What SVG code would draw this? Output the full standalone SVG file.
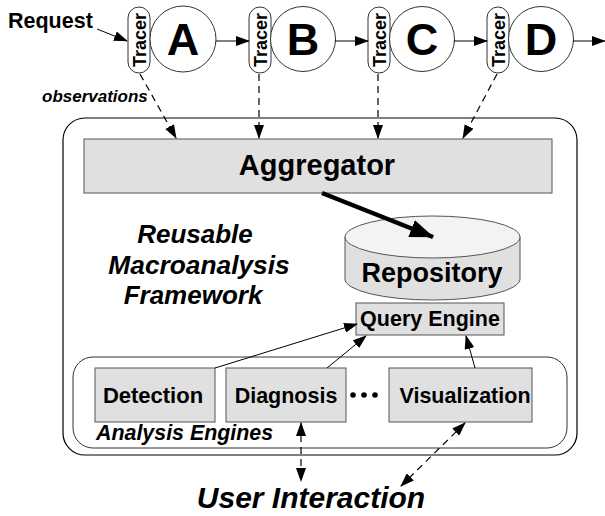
<svg xmlns="http://www.w3.org/2000/svg" width="605" height="516" viewBox="0 0 605 516">
  <style>
    text { font-family: "Liberation Sans", Arial, sans-serif; font-weight: bold; fill: #000; }
    .it { font-style: italic; }
    .mid { text-anchor: middle; }
    .box { fill: #e0e0e0; stroke: #555; stroke-width: 1; }
    .frame { fill: #fff; stroke: #000; stroke-width: 1.2; }
    .pill { fill: #fff; stroke: #333; stroke-width: 1; }
    .stage { fill: #fff; stroke: #333; stroke-width: 1; }
    .thin { fill: none; stroke: #000; stroke-width: 1; }
    .dash { fill: none; stroke: #000; stroke-width: 1.2; stroke-dasharray: 7 5; }
    .thick { fill: none; stroke: #000; stroke-width: 4.5; }
  </style>
  <defs>
    <marker id="arr" markerWidth="14" markerHeight="10" refX="13" refY="5" orient="auto" markerUnits="userSpaceOnUse">
      <path d="M0,0 L14,5 L0,10 Z" fill="#000"/>
    </marker>
    <marker id="arrStart" markerWidth="14" markerHeight="10" refX="1" refY="5" orient="auto" markerUnits="userSpaceOnUse">
      <path d="M14,0 L0,5 L14,10 Z" fill="#000"/>
    </marker>
    <marker id="arrBig" markerWidth="24" markerHeight="18" refX="23" refY="9" orient="auto" markerUnits="userSpaceOnUse">
      <path d="M0,0 L24,9 L0,18 Z" fill="#000"/>
    </marker>
  </defs>

  <!-- framework container -->
  <g id="framework">
    <rect class="frame" x="63" y="118" width="514" height="337" rx="22"/>
    <text class="it mid" x="195" y="243" font-size="26">Reusable</text>
    <text class="it mid" x="199" y="274" font-size="26.3">Macroanalysis</text>
    <text class="it mid" x="193" y="304" font-size="26">Framework</text>
  </g>

  <!-- request pipeline -->
  <g id="request">
    <text x="8" y="28" font-size="21.5">Request</text>
  </g>
  <g id="tracerA">
    <rect class="pill" x="128" y="7" width="22" height="66" rx="11"/>
    <text class="mid" transform="translate(145.5,40) rotate(-90)" font-size="18">Tracer</text>
  </g>
  <g id="stageA">
    <circle class="stage" cx="183" cy="39" r="33"/>
    <text class="mid" x="183" y="55" font-size="45">A</text>
  </g>
  <g id="tracerB">
    <rect class="pill" x="249" y="7" width="22" height="66" rx="11"/>
    <text class="mid" transform="translate(266.5,40) rotate(-90)" font-size="18">Tracer</text>
  </g>
  <g id="stageB">
    <circle class="stage" cx="303" cy="39" r="32.5"/>
    <text class="mid" x="303" y="55" font-size="45">B</text>
  </g>
  <g id="tracerC">
    <rect class="pill" x="368" y="7" width="22" height="66" rx="11"/>
    <text class="mid" transform="translate(385.5,40) rotate(-90)" font-size="18">Tracer</text>
  </g>
  <g id="stageC">
    <circle class="stage" cx="422" cy="39" r="32.5"/>
    <text class="mid" x="422" y="55" font-size="45">C</text>
  </g>
  <g id="tracerD">
    <rect class="pill" x="487" y="7" width="22" height="66" rx="11"/>
    <text class="mid" transform="translate(504.5,40) rotate(-90)" font-size="18">Tracer</text>
  </g>
  <g id="stageD">
    <circle class="stage" cx="541" cy="39" r="32.5"/>
    <text class="mid" x="541" y="55" font-size="45">D</text>
  </g>
  <g id="observations">
    <text class="it" x="42" y="102" font-size="17">observations</text>
  </g>

  <!-- aggregator -->
  <g id="aggregator">
    <rect class="box" x="84" y="139" width="468" height="54"/>
    <text class="mid" x="317" y="175" font-size="29">Aggregator</text>
  </g>

  <!-- repository cylinder -->
  <g id="repository">
    <path class="box" d="M345,237 L345,279 A87.5,21 0 0 0 520,279 L520,237 Z"/>
    <ellipse cx="432.5" cy="237" rx="87.5" ry="21" fill="#f3f3f3" stroke="#555" stroke-width="1"/>
    <text class="mid" x="432" y="282" font-size="27">Repository</text>
  </g>

  <!-- query engine -->
  <g id="queryEngine">
    <rect class="box" x="356" y="303" width="148" height="32"/>
    <text class="mid" x="430" y="326" font-size="21.5">Query Engine</text>
  </g>

  <!-- analysis engines -->
  <g id="analysisEngines">
    <rect fill="#fff" stroke="#333" stroke-width="1" x="73" y="357" width="494" height="91" rx="20"/>
    <text class="it" x="96" y="440" font-size="21.4">Analysis Engines</text>
    <circle cx="353" cy="395" r="2.8" fill="#000"/>
    <circle cx="364" cy="395" r="2.8" fill="#000"/>
    <circle cx="375" cy="395" r="2.8" fill="#000"/>
  </g>
  <g id="detection">
    <rect class="box" x="95" y="368" width="120" height="54"/>
    <text class="mid" x="153" y="403" font-size="22">Detection</text>
  </g>
  <g id="diagnosis">
    <rect class="box" x="226" y="368" width="120" height="54"/>
    <text class="mid" x="286" y="403" font-size="21.5">Diagnosis</text>
  </g>
  <g id="visualization">
    <rect class="box" x="389" y="368" width="143" height="54"/>
    <text class="mid" x="465" y="403" font-size="21.5">Visualization</text>
  </g>

  <g id="userInteraction">
    <text class="it mid" x="311" y="508" font-size="30">User Interaction</text>
  </g>

  <!-- connectors -->
  <g id="connectors">
    <line class="thin" x1="97" y1="29" x2="127" y2="41" marker-end="url(#arr)"/>
    <line class="thin" x1="216" y1="41" x2="249" y2="41" marker-end="url(#arr)"/>
    <line class="thin" x1="335" y1="41" x2="368" y2="41" marker-end="url(#arr)"/>
    <line class="thin" x1="454" y1="41" x2="487" y2="41" marker-end="url(#arr)"/>
    <line class="thin" x1="573" y1="41" x2="605" y2="41" marker-end="url(#arr)"/>

    <line class="dash" x1="140" y1="74" x2="176" y2="138" marker-end="url(#arr)"/>
    <line class="dash" x1="259" y1="74" x2="259" y2="138" marker-end="url(#arr)"/>
    <line class="dash" x1="378" y1="74" x2="378" y2="138" marker-end="url(#arr)"/>
    <line class="dash" x1="497" y1="74" x2="463" y2="138" marker-end="url(#arr)"/>

    <line class="thick" x1="322" y1="193" x2="433" y2="237" marker-end="url(#arrBig)"/>

    <line class="thin" x1="215" y1="368" x2="357" y2="324" marker-end="url(#arr)"/>
    <line class="thin" x1="327" y1="368" x2="366" y2="336" marker-end="url(#arr)"/>
    <line class="thin" x1="475" y1="368" x2="466" y2="336" marker-end="url(#arr)"/>

    <line class="dash" x1="301" y1="423" x2="301" y2="481" marker-start="url(#arrStart)" marker-end="url(#arr)"/>
    <line class="dash" x1="465" y1="423" x2="401" y2="486" marker-start="url(#arrStart)" marker-end="url(#arr)"/>
  </g>
</svg>
